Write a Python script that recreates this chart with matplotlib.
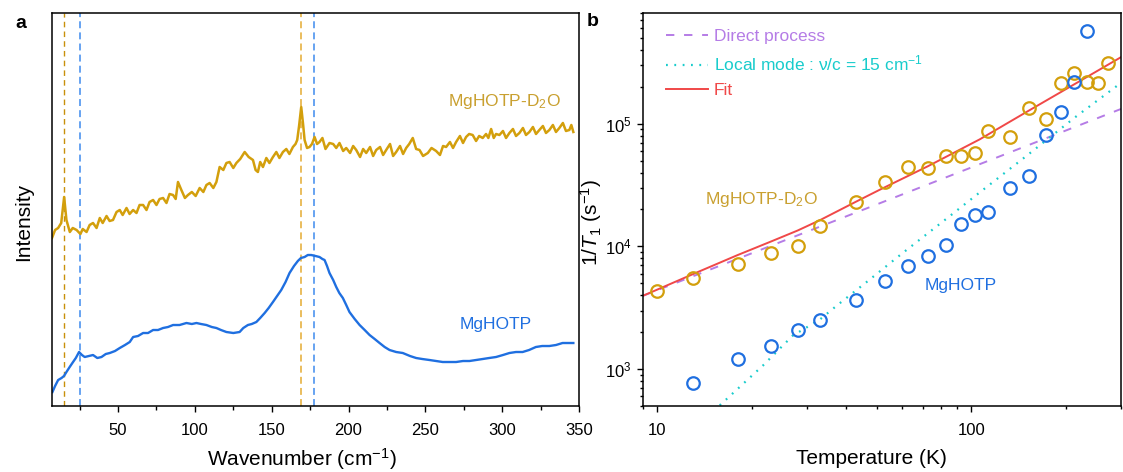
import numpy as np
import matplotlib.pyplot as plt
from matplotlib.ticker import LogLocator, NullFormatter, FixedLocator

plt.rcParams['font.family'] = ['Liberation Sans', 'DejaVu Sans']
plt.rcParams['mathtext.fontset'] = 'custom'
plt.rcParams['mathtext.rm'] = 'Liberation Sans'
plt.rcParams['mathtext.it'] = 'Liberation Sans:italic'
plt.rcParams['lines.scale_dashes'] = False

# ---- panel a: low-frequency spectra (intensity in arbitrary units) ----
d2o_wn = [7, 9, 11, 13, 14.9, 16.4, 18.6, 20.5, 23, 25.5, 27, 29.5, 31.5, 33.7, 36, 38.1, 40, 42.5,
          44.5, 46.7, 49, 51.1, 53, 55.5, 57.5, 59.8, 62, 64, 66.3, 68.5, 70.5, 72.8, 75, 77, 79.3,
          81.5, 83.5, 85.8, 87.5, 89.0, 91.2, 93.5, 95.5, 98, 100.5, 103.1, 105.5, 107.5, 109.6, 112,
          114.0, 116.1, 118.5, 120.5, 122.6, 125, 127.0, 129.5, 132.4, 135, 137.8, 139.5, 141.0, 142.5,
          144.3, 146.5, 148.5, 150.8, 153, 155, 157.3, 159.5, 161.5, 163.8, 165.5, 166.6, 167.8, 169.2,
          170.4, 171.4, 173, 174.6, 176.2, 177.9, 179.5, 181.1, 183, 185, 187.6, 190, 192, 194.1, 196.5,
          198.5, 201, 203, 205.0, 207.5, 209.5, 211.5, 214, 216, 218.0, 220.5, 222.5, 224.5, 227, 229,
          231.0, 233.5, 235.5, 237.5, 239.5, 241.8, 244, 246.2, 248.5, 251.6, 254, 257.0, 259.5, 261.5,
          263.5, 266, 268, 270.0, 272.5, 274.5, 276.5, 278.5, 280.8, 283, 285, 287.3, 289.5, 291, 292.8,
          294.5, 296, 298.2, 300.5, 302.5, 304.7, 307, 309, 311.2, 313.5, 315.5, 317.7, 320, 322, 324.2,
          326.5, 328.5, 330.7, 333, 335, 337.2, 339.5, 341.5, 343.7, 345, 346.3]
d2o_int = [168, 176, 178, 183, 209, 186, 174, 178, 176, 172, 177, 174, 181, 183, 178, 188, 183, 190,
           185, 186, 194, 196, 191, 198, 192, 196, 193, 201, 201, 196, 204, 206, 201, 207, 208,
           203, 212, 211, 207, 224, 216, 208, 211, 214, 210, 218, 214, 221, 223, 218,
           224, 239, 236, 243, 244, 238, 243, 247, 254, 249, 246, 236, 234, 244,
           239, 248, 243, 249, 254, 248, 254, 257, 252, 259, 262, 266, 280, 299,
           282, 266, 258, 259, 262, 269, 262, 264, 268, 257, 263, 262, 258, 263, 255,
           258, 253, 260, 256, 249, 257, 253, 259, 250, 256, 259, 251, 256, 262, 250,
           254, 260, 252, 258, 262, 268, 257, 256, 250, 253, 258, 255, 251, 260,
           259, 264, 258, 264, 270, 263, 269, 272, 271, 265, 270, 268, 272, 268, 277,
           268, 272, 271, 275, 268, 273, 277, 270, 273, 278, 271, 274, 279, 272, 276,
           280, 273, 276, 281, 274, 278, 283, 275, 276, 281, 274]

h_wn = [7.3, 9, 11.0, 13.2, 14.8, 16.4, 18.5, 20.7, 22.5, 24.6, 26.5, 28.3, 31, 33.7, 36.5, 39.2, 42,
        44.6, 48, 51.1, 54.5, 57.6, 59.8, 63, 66.3, 69.5, 72.8, 76, 79.3, 82.5, 85.8, 90, 94.5, 98,
        101.0, 104, 107.5, 111, 114.0, 117, 120.5, 125, 129.1, 131.5, 134.5, 137, 140.0, 142.5, 145.4,
        148, 150.8, 153.5, 156.2, 159, 161.6, 164.5, 167.0, 169, 171.4, 173.5, 175.7, 178.5, 181.1,
        183, 184.4, 186, 187.6, 190, 192.0, 194, 196.3, 198.5, 200.6, 204, 207.2, 210.5, 213.7, 217,
        220.2, 223.5, 226.7, 231, 235.3, 240, 244.0, 248, 252.7, 257, 261.3, 265.5, 270.0, 274.5,
        278.7, 283, 287.3, 291.5, 296.0, 300.5, 304.7, 309, 313.3, 317.5, 321.9, 326, 330.7, 335,
        339.3, 343, 346.3]
h_int = [14, 20, 26, 28, 30, 34, 39, 44, 48, 54, 51, 49, 50, 51, 48, 49, 52,
         53, 55, 58, 61, 64, 69, 70, 73, 73, 76, 76, 78, 79, 81, 81, 83, 82,
         83, 82, 81, 79, 78, 76, 74, 73, 74, 78, 81, 82, 84, 88, 93,
         98, 104, 110, 116, 124, 133, 140, 145, 148, 149, 151, 151, 150, 149,
         147, 146, 140, 133, 126, 119, 113, 108, 101, 94, 87, 81, 76, 71, 67,
         63, 59, 56, 54, 53, 50, 48, 47, 46, 45, 44, 44, 44, 45,
         45, 46, 47, 48, 49, 51, 53, 54, 54, 56, 59, 60, 60, 61,
         63, 63, 63]

vlines_d2o = [14.5, 169.3]
vlines_h = [25.3, 177.3]

# ---- panel b: spin-lattice relaxation rates ----
temp = [10, 13, 18, 23, 28, 33, 43, 53, 63, 73, 83, 93, 103, 113, 133, 153, 173, 193, 213, 233, 253, 273]
rate_d2o = [4360, 5500, 7180, 8770, 10100, 14700, 23200, 33700, 44400, 43300, 55000, 55000, 57700,
            86500, 77400, 134000, 110000, 213000, 261000, 218000, 215000, 315000]
temp_h = [13, 18, 23, 28, 33, 43, 53, 63, 73, 83, 93, 103, 113, 133, 153, 173, 193, 213, 233]
rate_h = [769, 1200, 1555, 2090, 2530, 3640, 5250, 6960, 8290, 10300, 15100, 18000, 19100,
          30200, 37800, 80400, 124000, 220000, 566000]

direct_T = [9, 300]
direct_rate = [3960, 132000]
local_T = [15.8, 21.7, 27.0, 32.9, 37.6, 46.3, 60, 84.3, 106.3, 149.7, 216.5, 300]
local_rate = [506, 1070, 1875, 2530, 3350, 5100, 8700, 17200, 27500, 54500, 115300, 215400]
fit_T = [9, 10, 13, 18, 23, 28, 33, 43, 51, 72.7, 106.3, 153.4, 221.3, 300]
fit_rate = [3965, 4450, 5955, 8495, 10960, 13490, 16400, 23200, 28900, 45000, 74500, 129000, 222000, 349000]

c_d2o = '#d39f0c'
c_d2o_txt = '#c9a030'
c_h = '#1f6fe0'

fig = plt.figure(figsize=(11.23, 4.72), dpi=100)
ax1 = fig.add_axes([0.0463, 0.1398, 0.4693, 0.8327])
ax2 = fig.add_axes([0.5726, 0.1398, 0.4256, 0.8327])

# panel a
ax1.axvline(vlines_d2o[0], color='#c8900a', lw=1.0, dashes=(4, 3))
ax1.axvline(vlines_d2o[1], color='#e8b850', lw=1.3, dashes=(5, 3))
for v in vlines_h:
    ax1.axvline(v, color='#5a9cf0', lw=1.3, dashes=(5, 3))
ax1.plot(d2o_wn, d2o_int, color=c_d2o, lw=1.8)
ax1.plot(h_wn, h_int, color=c_h, lw=1.7)
ax1.set_xlim(7, 350)
ax1.set_ylim(0, 393)
ax1.set_yticks([])
ax1.set_xticks([50, 100, 150, 200, 250, 300, 350])
ax1.xaxis.set_minor_locator(FixedLocator([25, 75, 125, 175, 225, 275, 325]))
ax1.tick_params(axis='x', which='major', direction='out', length=4, width=1, labelsize=12, pad=8)
ax1.tick_params(axis='x', which='minor', direction='out', length=3, width=1)
ax1.set_xlabel('Wavenumber (cm$^{-1}$)', fontsize=15, va='center')
ax1.set_ylabel('Intensity', fontsize=15, va='center')
ax1.xaxis.set_label_coords(0.474, -0.134)
ax1.yaxis.set_label_coords(-0.053, 0.468)
ax1.text(301.7, 304, 'MgHOTP-D$_2$O', color=c_d2o_txt, fontsize=12.5, ha='center', va='center')
ax1.text(295.8, 82, 'MgHOTP', color=c_h, fontsize=12.5, ha='center', va='center')

# panel b
ax2.plot(direct_T, direct_rate, color='#b57ce6', lw=1.4, dashes=(6, 7), label='Direct process')
ax2.plot(local_T, local_rate, color='#18cccc', lw=1.6, dashes=(1.3, 4.7),
         label='Local mode : \u03bd/c = 15 cm$^{-1}$')
ax2.plot(fit_T, fit_rate, color='#f04848', lw=1.4, label='Fit')
ax2.plot(temp, rate_d2o, 'o', mfc='none', mec=c_d2o, mew=1.6, ms=9)
ax2.plot(temp_h, rate_h, 'o', mfc='none', mec=c_h, mew=1.6, ms=9)
ax2.set_xscale('log')
ax2.set_yscale('log')
ax2.set_xlim(9, 300)
ax2.set_ylim(500, 8e5)
ax2.set_xticks([10, 100])
ax2.set_xticklabels(['10', '100'])
ax2.xaxis.set_minor_locator(LogLocator(base=10, subs=np.arange(2, 10)))
ax2.xaxis.set_minor_formatter(NullFormatter())
ax2.yaxis.set_major_locator(FixedLocator([1e3, 1e4, 1e5]))
ax2.yaxis.set_minor_locator(LogLocator(base=10, subs=np.arange(2, 10)))
ax2.yaxis.set_minor_formatter(NullFormatter())
ax2.tick_params(axis='x', which='major', direction='out', length=4, width=1, labelsize=12, pad=8)
ax2.tick_params(axis='y', which='major', direction='out', length=4, width=1, labelsize=12, pad=4)
ax2.tick_params(which='minor', direction='out', length=2.5, width=1)
ax2.set_xlabel('Temperature (K)', fontsize=15, va='center')
ax2.set_ylabel(r'1/$\mathit{T}_1$ (s$^{-1}$)', fontsize=15, va='center')
ax2.xaxis.set_label_coords(0.478, -0.134)
ax2.yaxis.set_label_coords(-0.108, 0.468)
ax2.text(21.5, 24250, 'MgHOTP-D$_2$O', color=c_d2o_txt, fontsize=12.5, ha='center', va='center')
ax2.text(92.3, 4840, 'MgHOTP', color=c_h, fontsize=12.5, ha='center', va='center')
ax2.legend(loc='upper left', bbox_to_anchor=(0.023, 0.99), frameon=False, fontsize=12.5,
           handlelength=2.4, handletextpad=0.35, labelspacing=0.55, borderaxespad=0.3,
           labelcolor='linecolor')

for ax in (ax1, ax2):
    for s in ax.spines.values():
        s.set_linewidth(1.1)

fig.text(15 / 1123, 1 - 24 / 472, 'a', fontsize=14, fontweight='bold', va='center')
fig.text(587 / 1123, 1 - 22 / 472, 'b', fontsize=14, fontweight='bold', va='center')

fig.savefig('out.png', dpi=100)
